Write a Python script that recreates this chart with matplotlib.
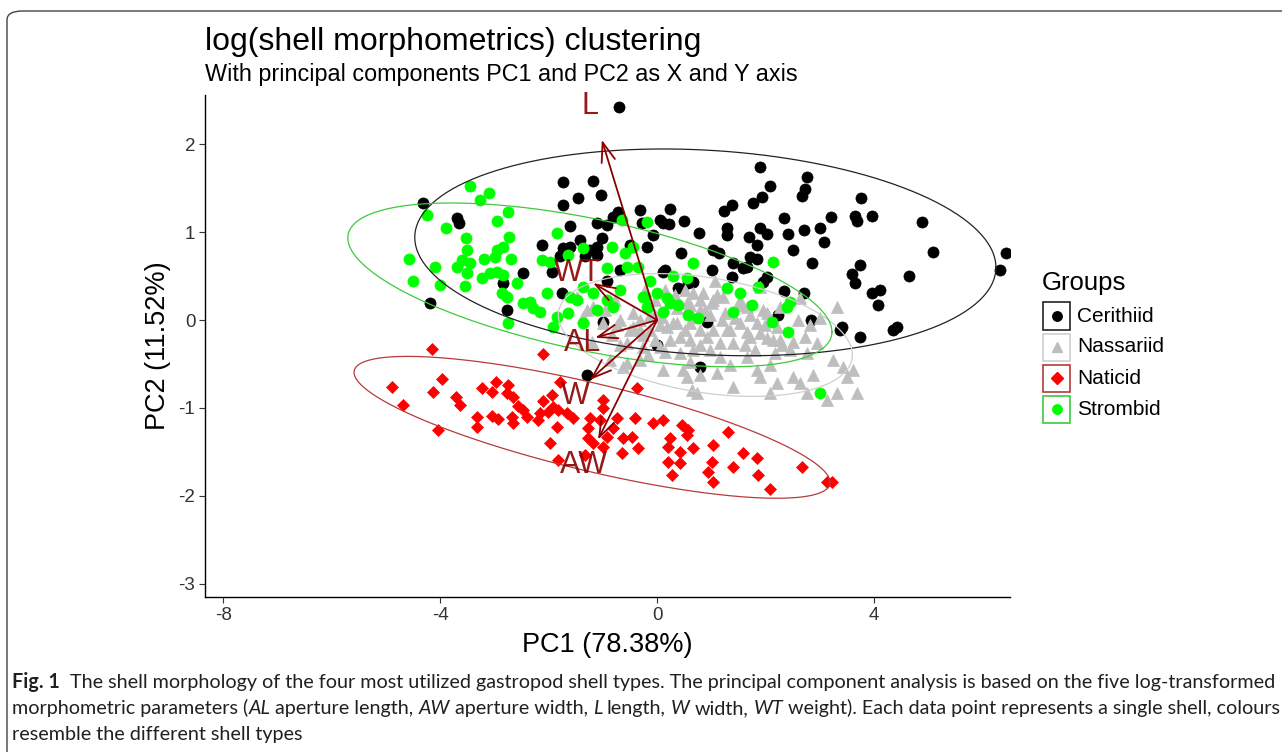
import numpy as np
import matplotlib
matplotlib.use('Agg')
import matplotlib.pyplot as plt
from matplotlib.patches import FancyBboxPatch, Rectangle
from matplotlib.lines import Line2D
from matplotlib import font_manager

W, H = 1282, 752

# ---- data ----
groups = ['Cerithiid', 'Nassariid', 'Naticid', 'Strombid']

cer_x = [1.90, 2.77, 2.73, 2.68, 2.08, 1.94, 1.77, 1.38, 1.24, 0.24, 0.50, 0.22, 0.11, 0.77, 1.29,
         1.29, 1.90, 2.03, 1.70, 1.85, 2.34, 2.42, 2.71, 3.01, 3.21, 3.65, 3.69, 3.97, 3.76, 3.08,
         2.51, 4.89, 5.09, 6.44, 6.33, 4.65, 3.75, 3.60, 3.65, 3.97, 4.11, 4.08, 4.35, 4.43, 3.75,
         2.86, 1.03, 1.14, 0.44, 1.72, 1.85, 1.66, 1.40, 1.01, 1.38, 2.03, 1.96, 2.34, 2.71, 2.84,
         3.38, 2.23, 0.11, 0.39, 0.66, 0.57, -1.73, -1.18, -1.46, -1.03, -1.73, -0.31, -0.72, -0.81,
         -1.11, -1.61, -0.28, 0.06, -0.07, -0.18, -0.92, -1.01, -1.11, -1.42, -1.61, -1.24, -1.73,
         -2.12, -1.79, -1.33, -1.11, -0.50, -0.68, -0.92, -1.94, -1.75, -2.47, -2.84, -2.77, -3.69,
         -3.65, -4.32, -4.19, 0.15, 0.00, -0.70, 1.59, 3.41, 0.92, 0.79, -1.00, -1.29]
cer_y = [1.74, 1.63, 1.49, 1.41, 1.52, 1.40, 1.33, 1.31, 1.24, 1.26, 1.13, 1.09, 1.10, 0.99, 1.05,
         0.97, 1.05, 0.98, 0.94, 0.85, 1.16, 0.98, 1.03, 1.05, 1.17, 1.18, 1.13, 1.18, 1.39, 0.89,
         0.80, 1.11, 0.77, 0.76, 0.57, 0.50, 0.63, 0.52, 0.42, 0.31, 0.34, 0.17, -0.11, -0.08, -0.19,
         0.65, 0.80, 0.76, 0.76, 0.72, 0.70, 0.60, 0.65, 0.57, 0.49, 0.49, 0.43, 0.33, 0.31, 0.00,
         -0.11, 0.06, 0.55, 0.36, 0.43, 0.42, 1.57, 1.58, 1.39, 1.42, 1.31, 1.25, 1.23, 1.17,
         1.10, 1.07, 1.10, 1.14, 0.97, 0.83, 1.08, 0.93, 0.83, 0.91, 0.83, 0.80, 0.82,
         0.85, 0.73, 0.73, 0.74, 0.85, 0.57, 0.45, 0.55, 0.31, 0.53, 0.42, 0.11, 1.16,
         1.10, 1.33, 0.19, 0.57, -0.28, 2.42, 0.59, -0.08, -0.02, -0.53, -0.02, -0.63]

nas_x = [1.07, 0.85, 0.66, 1.11, 1.01, 0.24, 0.37, 0.09, 0.18, 0.37, 0.61, 0.79, 0.92, 1.03, 1.16,
         1.40, 1.35, 1.66, 1.90, 2.03, 2.14, 2.31, 2.51, 2.73, 2.95, 3.32, 3.25, 3.43, 3.62, 3.51,
         2.88, 2.51, 2.64, 2.21, 1.90, 1.85, 1.40, 1.11, 0.79, 0.48, 0.11, -0.31, -0.55, -0.87,
         0.65, 0.74, 2.08, 2.77, 3.14, 3.32, 3.69, 1.66, 1.16, 0.66, 0.42, 0.06, -0.26, -0.55,
         -1.20, -1.18, -1.37, -0.74, -0.44, -0.26, -0.44, 1.85, 2.21, 2.45, 2.77, 1.66, 2.03,
         1.90, 2.27, 1.96, 1.22, 0.66, 0.30, 0.42, 1.29, 1.53, 1.72, 2.27, -1.48, -1.29, -1.00,
         -0.68, -0.50, -0.31, 0.24, 0.55, 1.03, -0.63, 0.55, -0.13, -0.04, 0.79, 0.52, 0.98,
         1.25, 1.53, -0.22, -0.04, 0.15, 0.33, 0.52, 0.79, 0.89, 0.61, 0.06, -0.13, -0.31, -0.04,
         0.15, 0.61, 0.79, 0.98, 1.20, 1.44, 1.62, 1.81, 1.99, 2.18, -0.83, -0.68, -0.96, -0.17,
         0.61, 1.35, 2.08, 1.53, 1.72, 2.60, 2.82, 3.01, 2.64, -0.77]
nas_y = [0.45, 0.31, 0.31, 0.28, 0.19, 0.23, 0.14, 0.03, -0.08, -0.03, -0.03, -0.11, -0.19, -0.11,
         -0.26, -0.26, -0.11, -0.14, -0.15, -0.20, -0.23, -0.28, -0.25, -0.19, -0.26, 0.15, -0.45,
         -0.53, -0.57, -0.65, -0.63, -0.65, -0.72, -0.72, -0.65, -0.57, -0.76, -0.60, -0.63, -0.57,
         -0.57, -0.45, -0.49, -0.45, -0.80, -0.83, -0.83, -0.83, -0.91, -0.83, -0.83, -0.42, -0.42,
         -0.34, -0.38, -0.31, -0.31, -0.26, -0.25, 0.15, 0.03, -0.06, -0.08, -0.17, 0.08, -0.03,
         -0.08, -0.34, -0.38, 0.15, 0.08, 0.38, 0.15, 0.11, 0.26, 0.03, -0.03, -0.19, -0.11, -0.03,
         -0.19, -0.23, 0.26, 0.11, -0.03, 0.00, -0.11, 0.00, -0.23, 0.19, 0.23, -0.53, -0.65, -0.11,
         0.06, 0.11, -0.11, 0.06, 0.08, 0.17, 0.34, 0.23, 0.34, 0.28, 0.34, 0.23, 0.11, 0.17, -0.06,
         0.06, -0.11, -0.23, -0.36, -0.23, -0.28, -0.34, 0.00, 0.02, -0.28, -0.34, -0.06, -0.38,
         -0.17, -0.28, 0.11, -0.40, -0.48, -0.51, -0.51, 0.23, 0.06, 0.00, -0.06, 0.02, 0.25, 0.23]

nat_x = [-4.15, -2.10, -3.97, -4.89, -4.13, -3.71, -3.63, -4.69, -4.04, -3.23, -3.04, -2.97, -2.75,
         -2.77, -2.66, -2.56, -2.47, -2.10, -1.94, -1.79, -1.92, -3.32, -3.32, -3.04, -2.93, -2.68,
         -2.66, -2.40, -2.20, -2.16, -2.01, -1.83, -1.66, -1.55, -1.85, -1.97, -1.24, -1.00, -1.00,
         -1.27, -1.05, -0.81, -0.74, -0.41, -0.37, -1.27, -1.00, -1.18, -0.92, -0.63, -0.46, -0.35,
         -0.65, -1.33, -1.83, -0.07, 0.11, 0.46, 0.57, 0.55, 0.24, 0.20, 0.42, 0.66, 1.03, 1.31,
         1.01, 0.94, 1.03, 0.20, 0.42, 0.28, 1.40, 1.59, 1.85, 1.86, 2.08, 2.68, 3.14, 3.23]
nat_y = [-0.33, -0.39, -0.67, -0.76, -0.82, -0.88, -0.97, -0.97, -1.25, -0.77, -0.82, -0.70, -0.74,
         -0.83, -0.88, -0.98, -1.02, -0.92, -0.85, -0.70, -0.99, -1.10, -1.22, -1.09, -1.13, -1.10,
         -1.17, -1.10, -1.14, -1.06, -1.05, -1.02, -1.06, -1.11, -1.22, -1.40, -1.11, -0.91, -1.00,
         -1.23, -1.14, -1.23, -1.11, -1.11, -0.77, -1.34, -1.44, -1.40, -1.33, -1.34, -1.33, -1.45,
         -1.51, -1.53, -1.59, -1.17, -1.14, -1.19, -1.25, -1.31, -1.34, -1.44, -1.50, -1.45, -1.42,
         -1.27, -1.61, -1.73, -1.84, -1.61, -1.63, -1.76, -1.67, -1.51, -1.57, -1.76, -1.92, -1.67,
         -1.84, -1.84]

str_x = [-3.45, -3.27, -3.10, -2.75, -2.95, -4.24, -3.89, -3.52, -2.73, -3.51, -3.60, -3.69, -3.45,
         -3.51, -3.19, -2.95, -2.84, -2.99, -2.69, -4.58, -4.10, -4.50, -4.00, -3.54, -3.23, -3.08,
         -2.95, -2.84, -2.58, -2.86, -2.77, -2.47, -2.34, -2.29, -2.16, -2.03, -2.75, -1.85, -2.12,
         -1.97, -1.64, -1.37, -0.83, -0.59, -0.55, -0.65, -0.92, -1.61, -1.48, -1.37, -1.18, -0.92,
         -0.81, -0.68, -1.11, -1.64, -1.85, -1.92, -1.37, -0.26, -0.18, -0.18, -0.44, 0.66, 2.14,
         1.86, 1.53, 1.75, 1.29, 1.40, 0.57, 2.12, 2.40, 2.45, 2.42, 0.39, 0.24, 0.11, -0.22, -0.17,
         0.00, -0.13, -0.35, 3.01, 0.30, 0.55, 0.76, 0.18]
str_y = [1.53, 1.36, 1.44, 1.23, 1.13, 1.19, 1.05, 0.93, 0.95, 0.80, 0.68, 0.60, 0.65, 0.53, 0.70,
         0.80, 0.83, 0.72, 0.69, 0.69, 0.60, 0.45, 0.40, 0.39, 0.48, 0.53, 0.55, 0.51, 0.42, 0.31,
         0.26, 0.19, 0.20, 0.14, 0.09, 0.31, -0.03, 0.99, 0.68, 0.66, 0.74, 0.82, 0.83, 0.76, 0.60,
         1.14, 0.59, 0.26, 0.23, 0.38, 0.31, 0.23, 0.15, 0.34, 0.11, 0.08, 0.03, -0.08, -0.03, 0.26,
         0.15, 1.11, 0.83, 0.65, 0.66, 0.38, 0.31, 0.17, 0.36, 0.09, 0.06, -0.02, 0.15, 0.20, -0.14,
         0.17, 0.19, 0.09, 0.26, 0.15, 0.31, 0.45, 0.60, -0.83, 0.50, 0.48, 0.02, 0.25]

# 95% ellipses: centre and shape matrix (sxx, sxy, syy)
ell_cx = [0.89, 0.89, -1.20, -1.24]
ell_cy = [0.77, -0.17, -1.22, 0.40]
ell_sxx = [28.73, 7.356, 19.28, 19.94]
ell_sxy = [-0.914, -0.616, -2.744, -2.385]
ell_syy = [1.383, 0.488, 0.651, 0.868]

# variable loadings (arrows) and label positions
var_names = ['L', 'WT', 'AL', 'W', 'AW']
load_x = [-1.02, -1.18, -1.14, -1.24, -1.09]
load_y = [2.05, 0.42, -0.20, -0.68, -1.36]
lab_x = [-1.24, -1.46, -1.37, -1.51, -1.35]
lab_y = [2.44, 0.53, -0.26, -0.86, -1.65]

title = 'log(shell morphometrics) clustering'
subtitle = 'With principal components PC1 and PC2 as X and Y axis'
xlabel = 'PC1 (78.38%)'
ylabel = 'PC2 (11.52%)'
xticks = [-8, -4, 0, 4]
yticks = [-3, -2, -1, 0, 1, 2]

pt_colors = ['#000000', '#BEBEBE', '#FF0000', '#00FF00']
ell_colors = ['#222222', '#CFCFCF', '#B83A3A', '#3CCB3C']
markers = ['o', '^', 'D', 'o']
msizes = [8.0, 8.8, 6.6, 8.0]
darkred = '#8B0000'

plt.rcParams['font.family'] = ['Liberation Sans', 'DejaVu Sans']
plt.rcParams['axes.unicode_minus'] = False


def fx(px):
    return px / W


def fy(py):
    return 1 - py / H


fig = plt.figure(figsize=(W / 100, H / 100), dpi=100)
ax = fig.add_axes([fx(205), fy(597), (1010 - 205) / W, (597 - 95) / H])

series = [(cer_x, cer_y), (nas_x, nas_y), (nat_x, nat_y), (str_x, str_y)]
for i, (xs, ys) in enumerate(series):
    ax.plot(xs, ys, linestyle='none', marker=markers[i], ms=msizes[i],
            color=pt_colors[i], mec=pt_colors[i], mew=0.5, zorder=2)

t = np.linspace(0, 2 * np.pi, 300)
for i in range(4):
    S = np.array([[ell_sxx[i], ell_sxy[i]], [ell_sxy[i], ell_syy[i]]])
    L = np.linalg.cholesky(S)
    pts = L @ np.vstack([np.cos(t), np.sin(t)])
    ax.plot(ell_cx[i] + pts[0], ell_cy[i] + pts[1], color=ell_colors[i], lw=0.9, zorder=3)

for i, name in enumerate(var_names):
    ax.annotate('', xy=(load_x[i], load_y[i]), xytext=(0, 0),
                arrowprops=dict(arrowstyle='->,head_length=1.4,head_width=0.5',
                                color=darkred, lw=1.3, shrinkA=0, shrinkB=0), zorder=4)
    ax.text(lab_x[i], lab_y[i], name, color=darkred, fontsize=22, ha='center',
            va='center', alpha=0.9, zorder=5)

ax.set_xlim(-8.34, 6.51)
ax.set_ylim(-3.15, 2.56)
ax.set_xticks(xticks)
ax.set_yticks(yticks)
for s in ['top', 'right']:
    ax.spines[s].set_visible(False)
for s in ['left', 'bottom']:
    ax.spines[s].set_linewidth(1.0)
    ax.spines[s].set_color('#000000')
ax.tick_params(length=4, width=0.8, color='#333333', labelsize=13.5, labelcolor='#333333', pad=3)
ax.set_xlabel(xlabel, fontsize=19.5, labelpad=6)
ax.set_ylabel(ylabel, fontsize=19.5, labelpad=5)

fig.text(fx(205), fy(42), title, fontsize=23, va='center', ha='left')
fig.text(fx(205), fy(75), subtitle, fontsize=16.8, va='center', ha='left')

# legend
fig.text(fx(1042), fy(283), 'Groups', fontsize=18.5, va='center', ha='left')
for i, g in enumerate(groups):
    cy = 316 + i * 31
    fig.add_artist(Rectangle((fx(1043), fy(cy + 13.5)), 27 / W, 27 / H,
                             transform=fig.transFigure, fc='white',
                             ec=ell_colors[i], lw=1.2))
    fig.add_artist(Line2D([fx(1056.5)], [fy(cy)], transform=fig.transFigure,
                          marker=markers[i], ms=msizes[i] * 0.85, color=pt_colors[i],
                          linestyle='none'))
    fig.text(fx(1077), fy(cy), g, fontsize=15, va='center', ha='left')

# outer frame
fig.add_artist(FancyBboxPatch((fx(7), fy(800)), (1400 - 7) / W, (800 - 11) / H,
                              boxstyle='round,pad=0,rounding_size=0.012',
                              transform=fig.transFigure, fc='none', ec='#444444',
                              lw=1.0, clip_on=False))

# caption
names = {f.name for f in font_manager.fontManager.ttflist}
cap_font = 'Liberation Sans Narrow' if 'Liberation Sans Narrow' in names else 'Lato'
renderer = fig.canvas.get_renderer()


def text_w(s, size, weight='normal', style='normal'):
    tt = fig.text(0, 0, s, fontsize=size, family=cap_font, weight=weight, style=style)
    w = tt.get_window_extent(renderer).width
    tt.remove()
    return w


def draw_runs(x, y, runs, size):
    space = text_w('a a', size) - text_w('aa', size)
    for s, weight, style in runs:
        lead = len(s) - len(s.lstrip(' '))
        trail = len(s) - len(s.rstrip(' '))
        x += lead * space
        core = s.strip(' ')
        if core:
            fig.text(fx(x), fy(y), core, fontsize=size, family=cap_font, weight=weight,
                     style=style, va='baseline', ha='left', color='#231F20')
            x += text_w(core, size, weight, style)
        x += trail * space
    return x


N, B, I = 'normal', 'bold', 'italic'
cap1 = [('Fig. 1', B, N), ('  The shell morphology of the four most utilized gastropod shell types. '
                           'The principal component analysis is based on the five log-transformed', N, N)]
cap2 = [('morphometric parameters (', N, N), ('AL', N, I), (' aperture length, ', N, N),
        ('AW', N, I), (' aperture width, ', N, N), ('L', N, I), (' length, ', N, N),
        ('W', N, I), (' width, ', N, N), ('WT', N, I),
        (' weight). Each data point represents a single shell, colours', N, N)]
cap3 = [('resemble the different shell types', N, N)]

base = 12.0
w1 = text_w('Fig. 1', base, 'bold') + 2 * (text_w('a a', base) - text_w('aa', base)) + \
    text_w(cap1[1][0].strip(), base)
cap_size = base * (1274 - 12) / w1
draw_runs(12, 688, cap1, cap_size)
draw_runs(12, 714, cap2, cap_size)
draw_runs(12, 740, cap3, cap_size)

fig.savefig('out.png', dpi=100)
